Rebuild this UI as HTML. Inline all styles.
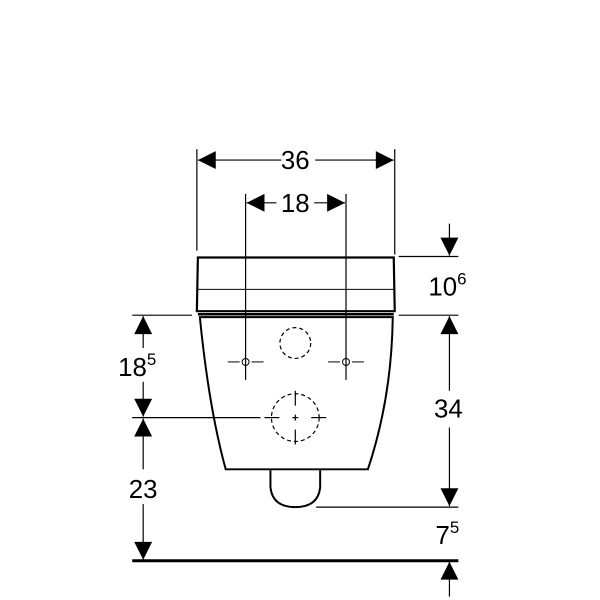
<!DOCTYPE html>
<html><head><style>html,body{margin:0;padding:0;background:#fff}svg{display:block}</style></head>
<body>
<svg width="600" height="600" viewBox="0 0 600 600" xmlns="http://www.w3.org/2000/svg" font-family="Liberation Sans, sans-serif">
<defs>
<marker id="a" viewBox="0 0 10 10" refX="10" refY="5" markerWidth="20" markerHeight="18" markerUnits="userSpaceOnUse" orient="auto"><path d="M0,0L10,5L0,10z" fill="#000"/></marker>
</defs>
<g transform="scale(0.9943)">
<g stroke="#000" stroke-width="1.2" fill="none">
<line x1="198" y1="150" x2="198" y2="252"/>
<line x1="397" y1="150" x2="397" y2="256"/>
<line x1="247" y1="195" x2="247" y2="382"/>
<line x1="348" y1="195" x2="348" y2="382"/>
<line x1="401" y1="258" x2="461" y2="258"/>
<line x1="401" y1="317" x2="461" y2="317"/>
<line x1="133" y1="317" x2="193" y2="317"/>
<line x1="133" y1="420" x2="262" y2="420"/>
<line x1="318" y1="510" x2="461" y2="510"/>
<line x1="283" y1="161" x2="199" y2="161" marker-end="url(#a)"/>
<line x1="317" y1="161" x2="396" y2="161" marker-end="url(#a)"/>
<line x1="278" y1="204" x2="248" y2="204" marker-end="url(#a)"/>
<line x1="316" y1="204" x2="347" y2="204" marker-end="url(#a)"/>
<line x1="452" y1="225" x2="452" y2="257" marker-end="url(#a)"/>
<line x1="452" y1="393" x2="452" y2="318" marker-end="url(#a)"/>
<line x1="452" y1="430" x2="452" y2="509" marker-end="url(#a)"/>
<line x1="452" y1="600" x2="452" y2="565" marker-end="url(#a)"/>
<line x1="144" y1="350" x2="144" y2="318" marker-end="url(#a)"/>
<line x1="144" y1="384" x2="144" y2="419" marker-end="url(#a)"/>
<line x1="144" y1="472" x2="144" y2="421" marker-end="url(#a)"/>
<line x1="144" y1="507" x2="144" y2="563" marker-end="url(#a)"/>
<line x1="133" y1="564" x2="461" y2="564" stroke-width="3"/>
<path d="M199,259 L396,259 L397,313 L198,313 Z" stroke-width="2.2"/>
<line x1="199" y1="291" x2="396" y2="291" stroke-width="1"/>
<line x1="199" y1="316" x2="396" y2="316" stroke-width="2.5"/>
<path d="M201,319 L395,319 Q394,400 370,472 L227,472 Q210,410 201,319 Z" stroke-width="2"/>
<path d="M272,473 L272,490 Q274,510 297,510 Q320,510 322,490 L322,473" stroke-width="2"/>
<circle cx="297" cy="345" r="15.5" stroke-dasharray="4,3"/>
<circle cx="297" cy="420" r="24" stroke-dasharray="4,3"/>
<line x1="297" y1="393" x2="297" y2="408"/><line x1="297" y1="432" x2="297" y2="447"/>
<line x1="266" y1="420" x2="281" y2="420"/><line x1="313" y1="420" x2="328" y2="420"/>
<line x1="294" y1="420" x2="300" y2="420"/><line x1="297" y1="417" x2="297" y2="423"/>
<g stroke-width="1">
<circle cx="247" cy="364" r="3.5"/><circle cx="348" cy="364" r="3.5"/>
<line x1="229" y1="364" x2="241" y2="364"/><line x1="253" y1="364" x2="265" y2="364"/>
<line x1="330" y1="364" x2="342" y2="364"/><line x1="354" y1="364" x2="366" y2="364"/>
</g>
</g>
<g font-size="26" fill="#000" text-anchor="middle">
<text x="297" y="170">36</text>
<text x="297" y="213">18</text>
<text x="450" y="297">10<tspan font-size="17" dy="-11">6</tspan></text>
<text x="451" y="420">34</text>
<text x="450" y="547">7<tspan font-size="17" dy="-11">5</tspan></text>
<text x="138" y="378">18<tspan font-size="17" dy="-11">5</tspan></text>
<text x="144" y="501">23</text>
</g>
</g>
</svg>
</body></html>
